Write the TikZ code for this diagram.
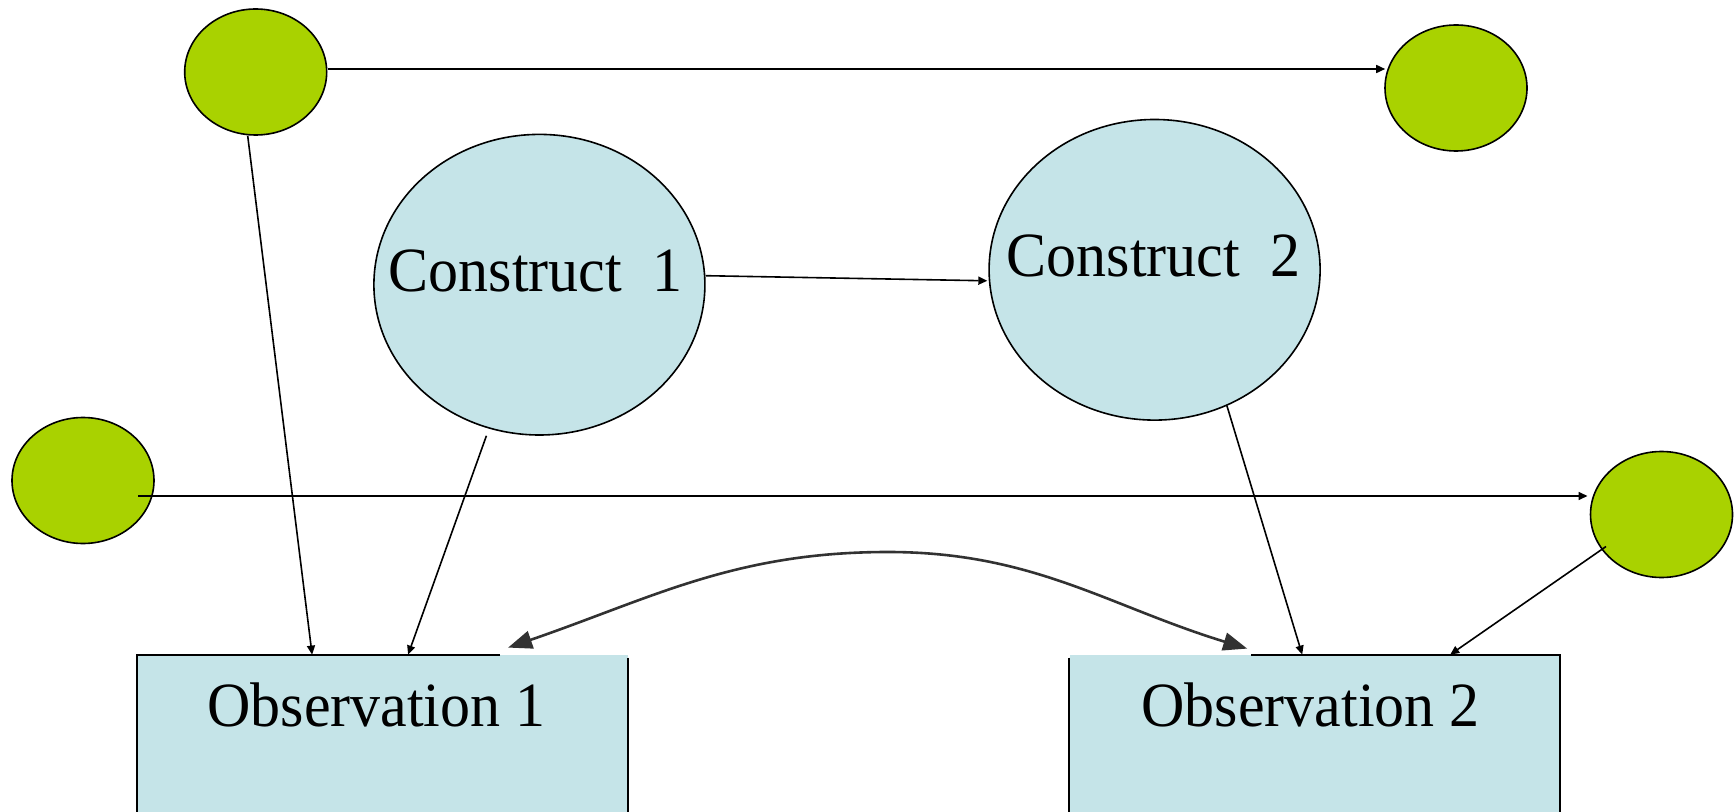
\documentclass[tikz,border=0pt]{standalone}
\usepackage{fontspec}
\usepackage{graphicx}
\setmainfont{Liberation Serif}
\usetikzlibrary{calc,arrows.meta,shapes.geometric}
\definecolor{lvgreen}{RGB}{169,210,0}
\definecolor{cblue}{RGB}{197,228,232}
\definecolor{curvegray}{RGB}{50,50,50}
\newcommand{\tallt}[1]{\scalebox{1}[1.05]{#1}}
\begin{document}
\begin{tikzpicture}[x=0.5pt,y=-0.5pt,
  latent/.style={ellipse,draw=black,line width=0.8pt,fill=lvgreen,inner sep=0pt,minimum width=71pt,minimum height=63pt},
  construct/.style={ellipse,draw=black,line width=0.8pt,fill=cblue,inner sep=0pt,minimum width=165.5pt,minimum height=150.3pt},
  obsbox/.style={rectangle,draw=none,fill=cblue,inner sep=0pt,minimum width=245pt,minimum height=90pt},
  obsline/.style={line width=1pt,draw=black},
  lbl/.style={font=\fontsize{30}{36}\selectfont,inner sep=0pt,anchor=base},
  conn/.style={-{Triangle[length=4.5pt,width=4pt]},line width=0.8pt},
  dbl/.style={{Triangle[length=12pt,width=9pt]}-{Triangle[length=12pt,width=9pt]},line width=1.3pt,draw=curvegray,fill=none}]
\clip (0,0) rectangle (1734,812);
% nodes
\node[latent] (tl) at (255.7,72) {};
\node[latent] (tr) at (1456,88) {};
\node[latent] (lm) at (83,480.5) {};
\node[latent] (rm) at (1661.5,514.5) {};
\node[construct] (c1) at (539.4,284.7) {};
\node[construct] (c2) at (1154.6,269.8) {};
\node[obsbox] (o1) at (382.5,745) {};
\node[obsbox] (o2) at (1314.6,745) {};
% texts
\node[lbl] (c1t) at ($(c1.center)+(-4,7)$) {\tallt{Construct\ \ 1}};
\node[lbl] (c2t) at ($(c2.center)+(-1,7)$) {\tallt{Construct\ \ 2}};
\node[lbl] (o1t) at ($(o1.north)+(-6,72)$) {\tallt{Observation 1}};
\node[lbl] (o2t) at ($(o2.north)+(-4,72)$) {\tallt{Observation 2}};
% box borders (top edge partly hidden, as in the original)
\draw[obsline] ($(o1.north west)+(363,0)$) -- (o1.north west) -- (o1.south west);
\draw[obsline] ($(o1.north east)+(0,3)$) -- (o1.south east);
\draw[obsline] ($(o2.north west)+(0,3)$) -- (o2.south west);
\draw[obsline] ($(o2.north west)+(182,0)$) -- (o2.north east) -- (o2.south east);
% connectors
\draw[conn] ($(tl.east)+(0,-3)$) -- ($(tr.west)+(1,-19)$);
\draw[conn] ($(tl.south)+(-8,0)$) -- ($(o1.north west)+(175,0)$);
\draw[conn] ($(c1.south)+(-53,0)$) -- ($(o1.north west)+(271,0)$);
\draw[conn] ($(c1.east)+(0,-9)$) -- ($(c2.west)+(-1,11)$);
\draw[conn] (c2.298) -- ($(o2.north west)+(233,0)$);
\draw[conn] ($(lm.center)+(55,15.5)$) -- ($(rm.center)+(-74,-18.5)$);
\draw[conn] ($(rm.center)+(-55.5,32)$) -- ($(o2.north west)+(381,0)$);
% correlation curve
\coordinate (pk) at (888,552);
\draw[dbl] ($(o1.north west)+(371,-7)$) to[out=19,in=180] (pk) to[out=0,in=163] ($(o2.north west)+(178,-6)$);
\end{tikzpicture}
\end{document}
